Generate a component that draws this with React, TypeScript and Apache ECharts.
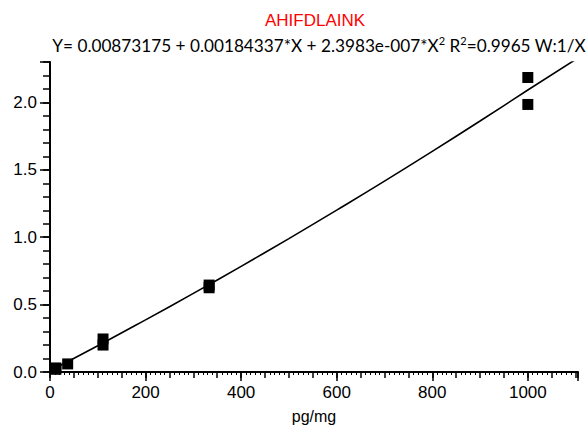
import React, { useEffect, useRef } from "react";
import * as echarts from "echarts";

const titleText = "AHIFDLAINK";
const equationMain = "Y= 0.00873175 + 0.00184337*X + 2.3983e-007*X";
const equationR = " R";
const equationTail = "=0.9965 W:1/X";
const xAxisName = "pg/mg";

// calibration standards (concentration, response)
const pointX = [12.3, 12.3, 37, 111, 111, 333, 333, 1000, 1000];
const pointY = [0.02, 0.03, 0.06, 0.2, 0.245, 0.625, 0.645, 2.185, 1.985];

// fitted curve
const curveX = [0, 100, 200, 300, 400, 500, 600, 700, 800, 900, 1000, 1105];
const curveY = [0.009, 0.195, 0.387, 0.583, 0.784, 0.99, 1.201, 1.416, 1.637, 1.862, 2.092, 2.33];

const xMin = 0;
const xMax = 1105;
const yMin = 0;
const yMax = 2.3;

export default function App() {
  const ref = useRef<HTMLDivElement>(null);
  useEffect(() => {
    if (!ref.current) return;
    const chart = echarts.init(ref.current, null, { renderer: "svg" });
    const axisColor = "#000";
    const labelFont = { fontFamily: "'Liberation Sans', Arial, sans-serif", fontSize: 17, color: "#000" };
    chart.setOption({
      animation: false,
      backgroundColor: "#fff",
      grid: { left: 50, right: 9, top: 62, bottom: 58, containLabel: false },
      graphic: [
        {
          type: "text",
          x: 315,
          y: 20,
          style: {
            text: titleText,
            fill: "#ff0000",
            font: "17px 'Liberation Sans', Arial, sans-serif",
            align: "center",
            verticalAlign: "middle",
          },
        },
        {
          type: "text",
          x: 319,
          y: 44,
          style: {
            text: `{n|${equationMain}}{s|2}{n|${equationR}}{s|2}{n|${equationTail}}`,
            align: "center",
            verticalAlign: "middle",
            rich: {
              n: { fontFamily: "Lato, sans-serif", fontSize: 17.2, fill: "#000", lineHeight: 19, verticalAlign: "bottom" },
              s: { fontFamily: "Lato, sans-serif", fontSize: 11, fill: "#000", lineHeight: 19, verticalAlign: "top" },
            },
          },
        },
      ],
      xAxis: [
        {
          type: "value",
          min: xMin,
          max: xMax,
          interval: 200,
          position: "bottom",
          name: xAxisName,
          nameLocation: "middle",
          nameGap: 36,
          nameTextStyle: { fontFamily: "'Liberation Sans', Arial, sans-serif", fontSize: 16, color: "#000" },
          axisLine: { show: true, onZero: false, lineStyle: { color: axisColor, width: 2 } },
          axisTick: { show: true, inside: false, length: 9, lineStyle: { color: axisColor, width: 1.5 } },
          axisLabel: {
            ...labelFont,
            margin: 12,
            formatter: (v: number) => (v % 200 === 0 ? String(v) : ""),
          },
          splitLine: { show: false },
        },
        {
          type: "value",
          min: xMin,
          max: xMax,
          interval: 50,
          position: "bottom",
          axisLine: { show: false, onZero: false },
          axisTick: { show: true, inside: false, length: 6, lineStyle: { color: axisColor, width: 1.5 } },
          minorTick: { show: true, splitNumber: 5, length: 3, lineStyle: { color: axisColor, width: 1 } },
          axisLabel: { show: false },
          splitLine: { show: false },
        },
      ],
      yAxis: [
        {
          type: "value",
          min: yMin,
          max: yMax,
          interval: 0.5,
          position: "left",
          axisLine: { show: true, onZero: false, lineStyle: { color: axisColor, width: 2 } },
          axisTick: { show: true, inside: false, length: 10, lineStyle: { color: axisColor, width: 1.5 } },
          axisLabel: {
            ...labelFont,
            margin: 13,
            formatter: (v: number) => (Math.abs(v * 2 - Math.round(v * 2)) < 1e-6 ? v.toFixed(1) : ""),
          },
          splitLine: { show: false },
        },
        {
          type: "value",
          min: yMin,
          max: yMax,
          interval: 0.1,
          position: "left",
          axisLine: { show: false, onZero: false },
          axisTick: { show: true, inside: false, length: 7, lineStyle: { color: axisColor, width: 1.5 } },
          axisLabel: { show: false },
          splitLine: { show: false },
        },
      ],
      series: [
        {
          type: "line",
          xAxisIndex: 0,
          yAxisIndex: 0,
          data: curveX.map((x, i) => [x, curveY[i]]),
          showSymbol: false,
          smooth: true,
          lineStyle: { color: "#000", width: 1.6 },
          z: 2,
        },
        {
          type: "scatter",
          xAxisIndex: 0,
          yAxisIndex: 0,
          data: pointX.map((x, i) => [x, pointY[i]]),
          symbol: "rect",
          symbolSize: 11,
          itemStyle: { color: "#000", opacity: 1 },
          z: 3,
        },
      ],
    });
    return () => chart.dispose();
  }, []);
  return <div ref={ref} style={{ width: 587, height: 430, position: "absolute", left: 0, top: 0 }} />;
}
